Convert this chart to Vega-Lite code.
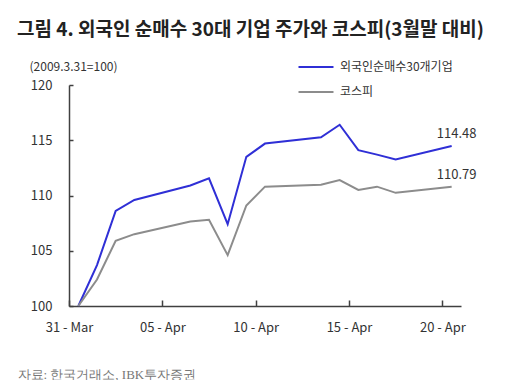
{
  "$schema": "https://vega.github.io/schema/vega-lite/v6.json",
  "width": 392,
  "height": 221,
  "autosize": {"type": "none"},
  "padding": {"left": 69, "top": 85, "right": 49, "bottom": 74},
  "background": "white",
  "config": {
    "view": {"stroke": null},
    "font": "Noto Sans CJK KR"
  },
  "title": {
    "text": "그림 4. 외국인 순매수 30대 기업 주가와 코스피(3월말 대비)",
    "anchor": "start",
    "frame": "group",
    "dx": -52,
    "offset": 5,
    "baseline": "alphabetic",
    "fontSize": 19,
    "fontWeight": "bold",
    "color": "#222222",
    "font": "Noto Sans CJK KR"
  },
  "data": {
    "values": [
      {"date": "2009-03-31", "series": "외국인순매수30개기업", "value": 100},
      {"date": "2009-04-01", "series": "외국인순매수30개기업", "value": 103.7},
      {"date": "2009-04-02", "series": "외국인순매수30개기업", "value": 108.6},
      {"date": "2009-04-03", "series": "외국인순매수30개기업", "value": 109.6},
      {"date": "2009-04-06", "series": "외국인순매수30개기업", "value": 110.9},
      {"date": "2009-04-07", "series": "외국인순매수30개기업", "value": 111.56},
      {"date": "2009-04-08", "series": "외국인순매수30개기업", "value": 107.4},
      {"date": "2009-04-09", "series": "외국인순매수30개기업", "value": 113.5},
      {"date": "2009-04-10", "series": "외국인순매수30개기업", "value": 114.7},
      {"date": "2009-04-13", "series": "외국인순매수30개기업", "value": 115.27},
      {"date": "2009-04-14", "series": "외국인순매수30개기업", "value": 116.4},
      {"date": "2009-04-15", "series": "외국인순매수30개기업", "value": 114.1},
      {"date": "2009-04-16", "series": "외국인순매수30개기업", "value": 113.7},
      {"date": "2009-04-17", "series": "외국인순매수30개기업", "value": 113.25},
      {"date": "2009-04-20", "series": "외국인순매수30개기업", "value": 114.48},
      {"date": "2009-03-31", "series": "코스피", "value": 100},
      {"date": "2009-04-01", "series": "코스피", "value": 102.4},
      {"date": "2009-04-02", "series": "코스피", "value": 105.9},
      {"date": "2009-04-03", "series": "코스피", "value": 106.5},
      {"date": "2009-04-06", "series": "코스피", "value": 107.65},
      {"date": "2009-04-07", "series": "코스피", "value": 107.8},
      {"date": "2009-04-08", "series": "코스피", "value": 104.6},
      {"date": "2009-04-09", "series": "코스피", "value": 109.1},
      {"date": "2009-04-10", "series": "코스피", "value": 110.8},
      {"date": "2009-04-13", "series": "코스피", "value": 110.97},
      {"date": "2009-04-14", "series": "코스피", "value": 111.4},
      {"date": "2009-04-15", "series": "코스피", "value": 110.5},
      {"date": "2009-04-16", "series": "코스피", "value": 110.8},
      {"date": "2009-04-17", "series": "코스피", "value": 110.24},
      {"date": "2009-04-20", "series": "코스피", "value": 110.79}
    ]
  },
  "encoding": {
    "x": {
      "field": "date",
      "type": "temporal",
      "scale": {
        "type": "utc",
        "domain": [
          {"year": 2009, "month": 3, "date": 30, "hours": 12, "utc": true},
          {"year": 2009, "month": 4, "date": 20, "hours": 12, "utc": true}
        ]
      },
      "axis": {
        "values": [
          {"year": 2009, "month": 3, "date": 31, "utc": true},
          {"year": 2009, "month": 4, "date": 5, "utc": true},
          {"year": 2009, "month": 4, "date": 10, "utc": true},
          {"year": 2009, "month": 4, "date": 15, "utc": true},
          {"year": 2009, "month": 4, "date": 20, "utc": true}
        ],
        "labelExpr": "utcFormat(datum.value, '%d - %b')",
        "grid": false,
        "domainColor": "#404040",
        "domainWidth": 1.5,
        "tickColor": "#404040",
        "tickWidth": 1.5,
        "tickSize": -6,
        "tickOffset": -9.3,
        "labelDx": 9.3,
        "labelPadding": 21,
        "labelFontSize": 13,
        "labelColor": "#333333",
        "labelFont": "Noto Sans CJK KR",
        "title": "자료: 한국거래소, IBK투자증권",
        "titleX": -52,
        "titleY": 68,
        "titleAlign": "left",
        "titleBaseline": "middle",
        "titleFont": "Liberation Serif",
        "titleFontSize": 13,
        "titleFontWeight": "normal",
        "titleColor": "#777777"
      }
    },
    "y": {
      "field": "value",
      "type": "quantitative",
      "scale": {"domain": [100, 120], "zero": false, "nice": false},
      "axis": {
        "values": [100, 105, 110, 115, 120],
        "grid": false,
        "domainColor": "#404040",
        "domainWidth": 1.5,
        "tickColor": "#404040",
        "tickWidth": 1.5,
        "tickSize": -4,
        "labelPadding": 21,
        "labelFontSize": 13,
        "labelColor": "#333333",
        "labelFont": "Noto Sans CJK KR",
        "title": "(2009.3.31=100)",
        "titleAngle": 0,
        "titleX": -40,
        "titleY": -19,
        "titleAlign": "left",
        "titleBaseline": "middle",
        "titleFontSize": 12,
        "titleFontWeight": "normal",
        "titleColor": "#333333",
        "titleFont": "Noto Sans CJK KR"
      }
    }
  },
  "layer": [
    {
      "mark": {"type": "line", "strokeWidth": 2},
      "encoding": {
        "color": {
          "field": "series",
          "type": "nominal",
          "scale": {
            "domain": ["외국인순매수30개기업", "코스피"],
            "range": ["#2f2fd6", "#8c8c8c"]
          },
          "legend": {
            "orient": "none",
            "legendX": 240,
            "legendY": -25,
            "title": null,
            "symbolType": "M-3,0H3",
            "symbolSize": 136,
            "symbolStrokeWidth": 2,
            "labelOffset": 17,
            "labelFontSize": 12,
            "labelColor": "#333333",
            "labelFont": "Noto Sans CJK KR",
            "rowPadding": 12
          }
        }
      }
    },
    {
      "transform": [{"filter": "utcdate(datum.date) == 20 && utcmonth(datum.date) == 3"}],
      "mark": {"type": "text", "dx": 5, "dy": -5, "baseline": "bottom", "fontSize": 13, "color": "#333333", "font": "Noto Sans CJK KR"},
      "encoding": {
        "text": {"field": "value", "type": "quantitative", "format": ".2f"}
      }
    }
  ]
}
